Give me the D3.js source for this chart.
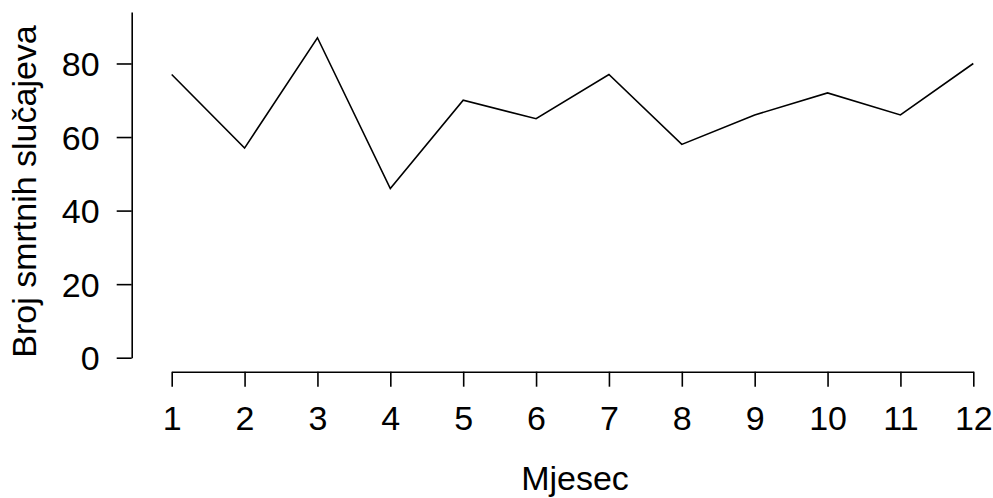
<!DOCTYPE html>
<html>
<head>
<meta charset="utf-8">
<script src="https://cdn.jsdelivr.net/npm/d3@7"></script>
<style>
  html, body { margin: 0; padding: 0; background: #fff; }
  svg { display: block; }
  text { font-family: "Liberation Sans", Arial, Helvetica, sans-serif; fill: #000; }
</style>
</head>
<body>
<script>
// Monthly counts of deaths
const months = [1, 2, 3, 4, 5, 6, 7, 8, 9, 10, 11, 12];
const deaths = [77, 57, 87, 46, 70, 65, 77, 58, 66, 72, 66, 80];
const yTicks = [0, 20, 40, 60, 80];
const xLabel = "Mjesec";
const yLabel = "Broj smrtnih slučajeva";

const W = 993, H = 498;
const svg = d3.select("body").append("svg")
  .attr("width", W).attr("height", H);

const x = d3.scaleLinear().domain([1, 12]).range([171.7, 973.3]);
const y = d3.scaleLinear().domain([0, 94]).range([357.7, 12]);

const axisLeftX = 131.7;
const axisBottomY = 371.7;
const fontSize = "34px";

// Line
const line = d3.line()
  .x((d, i) => x(months[i]))
  .y(d => y(d));

svg.append("path")
  .datum(deaths)
  .attr("d", line)
  .attr("fill", "none")
  .attr("stroke", "#000")
  .attr("stroke-width", 1.6)
  .attr("stroke-linejoin", "miter");

// Y axis
const gy = svg.append("g")
  .attr("transform", `translate(${axisLeftX},0)`)
  .call(d3.axisLeft(y).tickValues(yTicks).tickSizeInner(15).tickSizeOuter(0).tickPadding(17)
    .tickFormat(d3.format("d")));
gy.selectAll("path, line").attr("stroke", "#000").attr("stroke-width", 1.6);
gy.selectAll("text")
  .style("font-size", fontSize)
  .attr("dy", "0.36em");

// X axis
const gx = svg.append("g")
  .attr("transform", `translate(0,${axisBottomY})`)
  .call(d3.axisBottom(x).tickValues(months).tickSizeInner(15).tickSizeOuter(0).tickPadding(0)
    .tickFormat(d3.format("d")));
gx.selectAll("path, line").attr("stroke", "#000").attr("stroke-width", 1.6);
gx.selectAll("text")
  .style("font-size", fontSize)
  .attr("dy", null)
  .attr("y", 58);

// Axis titles
svg.append("text")
  .attr("x", 575).attr("y", 490)
  .attr("text-anchor", "middle")
  .style("font-size", fontSize)
  .text(xLabel);

svg.append("text")
  .attr("transform", `translate(36,191.5) rotate(-90)`)
  .attr("text-anchor", "middle")
  .style("font-size", fontSize)
  .text(yLabel);
</script>
</body>
</html>
